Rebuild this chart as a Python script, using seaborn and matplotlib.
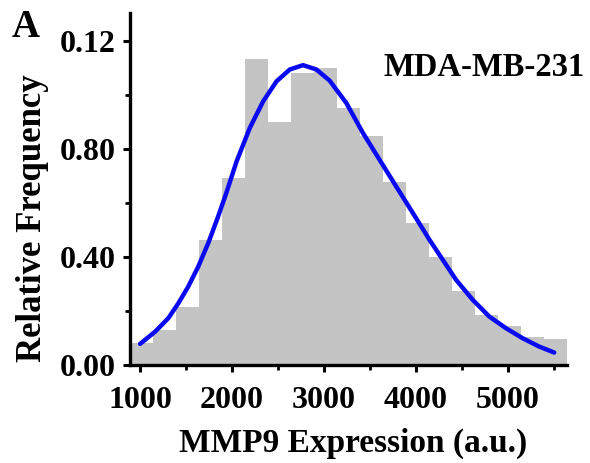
import pandas as pd
import matplotlib
matplotlib.use("Agg")
import matplotlib.pyplot as plt
from matplotlib.ticker import MultipleLocator
import seaborn as sns

# histogram: bin start, bin width and relative frequency per bin
bin_start = 890
bin_width = 250
rel_freq = [0.0080, 0.0130, 0.0216, 0.0463, 0.0691, 0.1133, 0.0897, 0.1080, 0.1098,
            0.0951, 0.0848, 0.0675, 0.0525, 0.0401, 0.0272, 0.0185, 0.0144, 0.0105, 0.0096]

# fitted curve
curve_x = [1000, 1163, 1307, 1416, 1524, 1633, 1742, 1850, 1940, 2050, 2194, 2339,
           2484, 2629, 2773, 2918, 3062, 3244, 3425, 3606, 3787, 3968, 4149, 4276,
           4438, 4619, 4800, 4981, 5162, 5343, 5506]
curve_y = [0.0078, 0.0123, 0.0173, 0.0228, 0.0290, 0.0364, 0.0451, 0.0550, 0.0638,
           0.0753, 0.0877, 0.0975, 0.1049, 0.1093, 0.1109, 0.1093, 0.1052, 0.0969,
           0.0858, 0.0759, 0.0660, 0.0562, 0.0463, 0.0398, 0.0315, 0.0241, 0.0179,
           0.0136, 0.0099, 0.0068, 0.0046]

y_ticks = [0.0, 0.04, 0.08, 0.12]
y_ticklabels = ["0.00", "0.40", "0.80", "0.12"]
x_ticks = [1000, 2000, 3000, 4000, 5000]

sns.set_style("ticks")
plt.rcParams['font.family'] = ['Liberation Serif', 'DejaVu Serif']
plt.rcParams['font.weight'] = 'bold'
plt.rcParams['text.color'] = 'black'
plt.rcParams['axes.labelcolor'] = 'black'
plt.rcParams['xtick.color'] = 'black'
plt.rcParams['ytick.color'] = 'black'

edges = [bin_start + bin_width * i for i in range(len(rel_freq) + 1)]
centers = [e + bin_width / 2 for e in edges[:-1]]
hist_df = pd.DataFrame({'x': centers, 'w': rel_freq})
curve_df = pd.DataFrame({'x': curve_x, 'y': curve_y})

fig = plt.figure(figsize=(5.9, 4.63), dpi=100)
ax = fig.add_axes([0.2203, 0.2117, 0.7407, 0.7603])

sns.histplot(data=hist_df, x='x', weights='w', bins=edges, stat='count',
             color='#c4c4c4', alpha=1, edgecolor='none', linewidth=0, ax=ax)
sns.lineplot(data=curve_df, x='x', y='y', color='#0a0af0', lw=3.2, ax=ax)

ax.set_xlim(890, 5645)
ax.set_ylim(0, 0.1302)
ax.set_xticks(x_ticks)
ax.set_xticklabels([str(t) for t in x_ticks])
ax.set_yticks(y_ticks)
ax.set_yticklabels(y_ticklabels)
ax.xaxis.set_minor_locator(MultipleLocator(500))
ax.yaxis.set_minor_locator(MultipleLocator(0.02))

for s in ['top', 'right']:
    ax.spines[s].set_visible(False)
for s in ['left', 'bottom']:
    ax.spines[s].set_linewidth(2.4)
    ax.spines[s].set_color('black')

ax.tick_params(which='major', length=5, width=2.2, labelsize=23, colors='black')
ax.tick_params(axis='x', which='major', pad=10)
ax.tick_params(axis='y', which='major', pad=5)
ax.tick_params(which='minor', length=3.5, width=2.0)
for lab in ax.get_xticklabels() + ax.get_yticklabels():
    lab.set_fontweight('bold')

ax.set_xlabel('MMP9 Expression (a.u.)', fontsize=24, fontweight='bold', va='center')
ax.xaxis.set_label_coords(0.51, -0.222)
ax.set_ylabel('Relative Frequency', fontsize=25, fontweight='bold', va='center')
ax.yaxis.set_label_coords(-0.224, 0.418)

ax.text(0.579, 0.844, 'MDA-MB-231', transform=ax.transAxes, fontsize=23.5,
        fontweight='bold', ha='left', va='center')
fig.text(0.02, 0.94, 'A', fontsize=28, fontweight='bold', ha='left', va='center')

fig.savefig('out.png', dpi=100, facecolor='white')
